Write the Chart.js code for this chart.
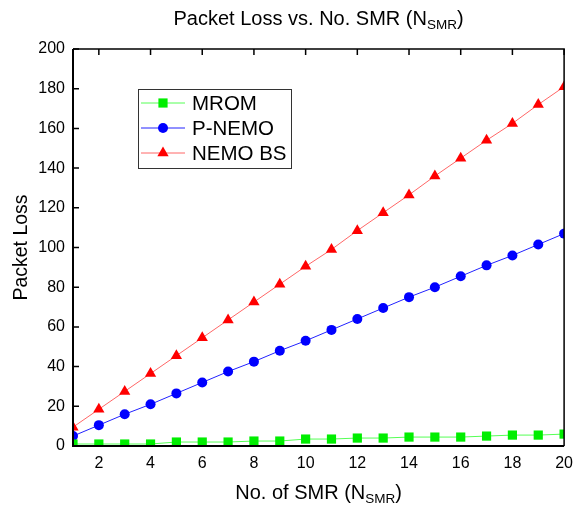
<!DOCTYPE html>
<html lang="en">

<head>
    <meta charset="utf-8" />
    <title>Packet Loss vs. No. SMR</title>
    <script src="https://cdn.jsdelivr.net/npm/chart.js@4.4.0/dist/chart.umd.min.js"></script>
    <style>
        html, body { margin: 0; padding: 0; background: #fff; }
        #chart { display: block; }
    </style>
</head>

<body>
    <canvas id="chart" width="581" height="505"></canvas>

    <script>
        // data
        const smr = [1, 2, 3, 4, 5, 6, 7, 8, 9, 10, 11, 12, 13, 14, 15, 16, 17, 18, 19, 20];
        const mrom = [1, 1, 1, 1, 2, 2, 2, 2.5, 2.5, 3.5, 3.5, 4, 4, 4.5, 4.5, 4.5, 5, 5.5, 5.5, 6];
        const pNemo = [5, 10.5, 16, 21, 26.5, 32, 37.5, 42.5, 48, 53, 58.5, 64, 69.5, 75, 80, 85.5, 91, 96, 101.5, 107];
        const nemoBs = [9.5, 18.5, 27.5, 36.5, 45.5, 54.5, 63.5, 72.5, 81.5, 90.5, 99, 108.5, 117.5, 126.5, 136, 145, 154, 162.5, 172, 181];
        const xTicks = [2, 4, 6, 8, 10, 12, 14, 16, 18, 20];
        const yTicks = [0, 20, 40, 60, 80, 100, 120, 140, 160, 180, 200];

        const FONT = "'Liberation Sans', Arial, sans-serif";

        let toPoints = (ys) => smr.map((x, i) => ({ x: x, y: ys[i] }));

        // writes "main" followed by a subscript, centred on cx
        let drawSubText = (ctx, main, sub, tail, cx, cy, size, subSize) => {
            ctx.font = size + "px " + FONT;
            let w1 = ctx.measureText(main).width;
            let w3 = ctx.measureText(tail).width;
            ctx.font = subSize + "px " + FONT;
            let w2 = ctx.measureText(sub).width;
            let x = cx - (w1 + w2 + w3) / 2;
            ctx.textAlign = "left";
            ctx.textBaseline = "middle";
            ctx.fillStyle = "#000";
            ctx.font = size + "px " + FONT;
            ctx.fillText(main, x, cy);
            ctx.font = subSize + "px " + FONT;
            ctx.fillText(sub, x + w1, cy + size * 0.3);
            ctx.font = size + "px " + FONT;
            ctx.fillText(tail, x + w1 + w2, cy);
        };

        const framePlugin = {
            id: "frame",
            afterDraw(chart) {
                const ctx = chart.ctx;
                const a = chart.chartArea;
                const xs = chart.scales.x;
                const ys = chart.scales.y;
                ctx.save();

                // inward ticks on top and left
                ctx.strokeStyle = "#000";
                ctx.lineWidth = 1.5;
                ctx.beginPath();
                xTicks.forEach((v) => {
                    let px = xs.getPixelForValue(v);
                    ctx.moveTo(px, a.top);
                    ctx.lineTo(px, a.top + 6);
                });
                yTicks.forEach((v) => {
                    let py = ys.getPixelForValue(v);
                    ctx.moveTo(a.left, py);
                    ctx.lineTo(a.left + 6, py);
                });
                ctx.stroke();

                // frame: bold left/bottom, thinner top/right
                ctx.lineWidth = 2;
                ctx.beginPath();
                ctx.moveTo(a.left, a.top);
                ctx.lineTo(a.left, a.bottom);
                ctx.lineTo(a.right, a.bottom);
                ctx.stroke();
                ctx.lineWidth = 1.5;
                ctx.beginPath();
                ctx.moveTo(a.left, a.top);
                ctx.lineTo(a.right, a.top);
                ctx.lineTo(a.right, a.bottom);
                ctx.stroke();

                // legend box
                const lx = 138, ly = 89, lw = 153, lh = 79;
                ctx.fillStyle = "#fff";
                ctx.fillRect(lx, ly, lw, lh);
                ctx.strokeStyle = "#333";
                ctx.lineWidth = 1;
                ctx.strokeRect(lx + 0.5, ly + 0.5, lw, lh);
                chart.data.datasets.forEach((ds, i) => {
                    let cy = ly + 14 + i * 25;
                    ctx.strokeStyle = ds.borderColor;
                    ctx.lineWidth = 1;
                    ctx.beginPath();
                    ctx.moveTo(lx + 3, cy);
                    ctx.lineTo(lx + 47, cy);
                    ctx.stroke();
                    ctx.fillStyle = ds.pointBackgroundColor;
                    ctx.strokeStyle = ds.pointBackgroundColor;
                    Chart.helpers.drawPoint(ctx, {
                        pointStyle: ds.pointStyle,
                        radius: ds.pointRadius,
                        rotation: 0,
                        borderWidth: 0
                    }, lx + 25, cy);
                    ctx.fillStyle = "#000";
                    ctx.font = "20.5px " + FONT;
                    ctx.textAlign = "left";
                    ctx.textBaseline = "middle";
                    ctx.fillText(ds.label, lx + 54, cy + 1);
                });

                // titles
                let cx = (a.left + a.right) / 2;
                drawSubText(ctx, "Packet Loss vs. No. SMR (N", "SMR", ")", cx, 19, 20, 13.5);
                drawSubText(ctx, "No. of SMR (N", "SMR", ")", cx, 493, 20, 13.5);
                ctx.save();
                ctx.translate(22, (a.top + a.bottom) / 2);
                ctx.rotate(-Math.PI / 2);
                ctx.font = "19.5px " + FONT;
                ctx.textAlign = "center";
                ctx.textBaseline = "middle";
                ctx.fillStyle = "#000";
                ctx.fillText("Packet Loss", 0, 0);
                ctx.restore();

                ctx.restore();
            }
        };

        let makeSet = (label, ys, line, mark, style, radius) => ({
            label: label,
            data: toPoints(ys),
            borderColor: line,
            borderWidth: 1,
            pointStyle: style,
            pointRadius: radius,
            pointBackgroundColor: mark,
            pointBorderColor: mark,
            pointBorderWidth: 0,
            tension: 0,
        });

        const ctx = document.getElementById("chart");
        const myChart = new Chart(ctx, {
            type: "line",
            data: {
                datasets: [
                    makeSet("MROM", mrom, "#55ff55", "#00ee00", "rect", 6.5),
                    makeSet("P-NEMO", pNemo, "#2222ff", "#0000ff", "circle", 5),
                    makeSet("NEMO BS", nemoBs, "#ff6666", "#ff0000", "triangle", 6.5),
                ],
            },
            options: {
                responsive: false,
                animation: false,
                layout: { padding: { left: 0, top: 49, right: 15, bottom: 0 } },
                plugins: {
                    legend: { display: false },
                    title: { display: false },
                    tooltip: { enabled: false },
                },
                scales: {
                    x: {
                        type: "linear",
                        min: 1,
                        max: 20,
                        grid: { display: false, drawTicks: false },
                        border: { display: false },
                        afterBuildTicks: (scale) => {
                            scale.ticks = xTicks.map((v) => ({ value: v }));
                        },
                        afterFit: (scale) => { scale.height = 59; },
                        ticks: {
                            color: "#000",
                            padding: 8,
                            maxRotation: 0,
                            font: { family: FONT, size: 16 },
                        },
                    },
                    y: {
                        min: 0,
                        max: 200,
                        grid: { display: false, drawTicks: false },
                        border: { display: false },
                        afterBuildTicks: (scale) => {
                            scale.ticks = yTicks.map((v) => ({ value: v }));
                        },
                        afterFit: (scale) => { scale.width = 73; },
                        ticks: {
                            color: "#000",
                            padding: 8,
                            font: { family: FONT, size: 16 },
                        },
                    },
                },
            },
            plugins: [framePlugin],
        });
    </script>
</body>

</html>
